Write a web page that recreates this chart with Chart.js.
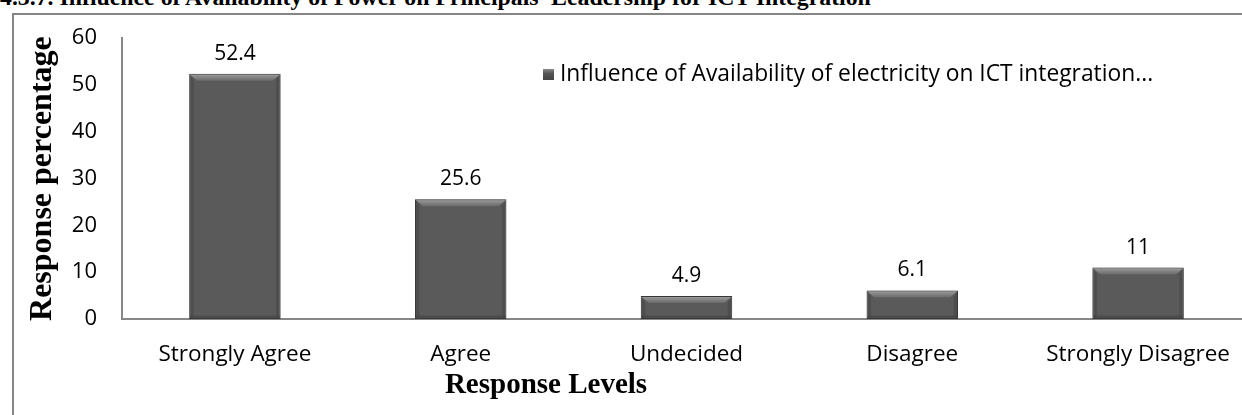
<!DOCTYPE html>
<html>
<head>
<meta charset="utf-8">
<script src="https://cdn.jsdelivr.net/npm/chart.js@4.4.1/dist/chart.umd.min.js"></script>
<style>
  html, body { margin: 0; padding: 0; background: #fff; overflow: hidden; width: 1242px; height: 415px; }
  #title { position: absolute; left: 0; top: -15px; font: bold 23.8px "Liberation Serif", "Times New Roman", serif; color: #000; white-space: nowrap; line-height: 24px; }
  #frame { position: absolute; left: 12px; top: 13px; width: 1300px; height: 500px; border-left: 2px solid #858585; border-top: 2px solid #858585; }
  #wrap { position: absolute; left: 0; top: 0; width: 1252px; height: 415px; }
</style>
</head>
<body>
<div id="title">4.3.7. Influence of Availability of Power on Principals' Leadership for ICT Integration</div>
<div id="frame"></div>
<div id="wrap"><canvas id="c" width="1252" height="415"></canvas></div>
<script>
const categories = ["Strongly Agree", "Agree", "Undecided", "Disagree", "Strongly Disagree"];
const values = [52.4, 25.6, 4.9, 6.1, 11];
const valueLabels = ["52.4", "25.6", "4.9", "6.1", "11"];
const seriesName = "Influence of Availability of electricity on ICT integration...";
const yTicks = [0, 10, 20, 30, 40, 50, 60];
const yTitle = "Response percentage";
const xTitle = "Response Levels";

const SANS = "'Open Sans', sans-serif";
const SERIF = "'Liberation Serif', serif";

const bevelPlugin = {
  id: 'bevel',
  beforeDatasetsDraw(chart) {
    const ctx = chart.ctx;
    ctx.save();
    ctx.shadowColor = 'rgba(0,0,0,0.28)';
    ctx.shadowBlur = 5;
    ctx.shadowOffsetX = 0;
    ctx.shadowOffsetY = 0;
  },
  afterDatasetsDraw(chart) {
    const ctx = chart.ctx;
    ctx.restore();
    const meta = chart.getDatasetMeta(0);
    meta.data.forEach((bar, i) => {
      const w = bar.width;
      const l = bar.x - w / 2, r = bar.x + w / 2, t = bar.y, b = bar.base;
      const bv = Math.min(7, (b - t) / 3);
      ctx.save();
      const g = ctx.createLinearGradient(0, t, 0, t + bv);
      g.addColorStop(0, '#a0a0a0');
      g.addColorStop(1, '#6a6a6a');
      ctx.fillStyle = g;
      ctx.beginPath();
      ctx.moveTo(l + 1, t + 1); ctx.lineTo(r - 1, t + 1); ctx.lineTo(r - 1 - bv, t + bv); ctx.lineTo(l + 1 + bv, t + bv); ctx.closePath();
      ctx.fill();
      ctx.fillStyle = 'rgba(70,70,70,0.55)';
      ctx.beginPath();
      ctx.moveTo(l + 1, t + 1); ctx.lineTo(l + 1 + bv * 0.5, t + bv); ctx.lineTo(l + 1 + bv * 0.5, b - bv * 0.5); ctx.lineTo(l + 1, b); ctx.closePath();
      ctx.fill();
      ctx.beginPath();
      ctx.moveTo(r - 1, t + 1); ctx.lineTo(r - 1 - bv * 0.5, t + bv); ctx.lineTo(r - 1 - bv * 0.5, b - bv * 0.5); ctx.lineTo(r - 1, b); ctx.closePath();
      ctx.fill();
      ctx.fillStyle = 'rgba(60,60,60,0.5)';
      ctx.fillRect(l + 1, b - bv * 0.5, w - 2, bv * 0.5);
      ctx.restore();

      ctx.save();
      ctx.font = "21px " + SANS;
      ctx.fillStyle = '#000';
      ctx.textAlign = 'center';
      ctx.textBaseline = 'middle';
      ctx.fillText(valueLabels[i], bar.x, t - 20);
      ctx.restore();
    });

    const ctx2 = chart.ctx;
    ctx2.save();
    const lx = 543, ly = 69;
    const lg = ctx2.createLinearGradient(0, ly, 0, ly + 11);
    lg.addColorStop(0, '#8a8a8a'); lg.addColorStop(0.4, '#555'); lg.addColorStop(1, '#444');
    ctx2.fillStyle = lg;
    ctx2.fillRect(lx, ly, 11, 11);
    ctx2.font = "22.8px " + SANS;
    ctx2.fillStyle = '#000';
    ctx2.textAlign = 'left';
    ctx2.textBaseline = 'middle';
    ctx2.fillText(seriesName, lx + 17, ly + 6);

    // x axis title (offset left of the plot centre, as in the reference)
    ctx2.font = "bold 29px " + SERIF;
    ctx2.textAlign = 'center';
    ctx2.fillText(xTitle, 546, 386);
    ctx2.restore();
  }
};

new Chart(document.getElementById('c'), {
  type: 'bar',
  data: {
    labels: categories,
    datasets: [{
      label: seriesName,
      data: values,
      backgroundColor: '#5a5a5a',
      borderColor: '#3e3e3e',
      borderWidth: 1,
      borderSkipped: false,
      categoryPercentage: 1.0,
      barPercentage: 0.405
    }]
  },
  options: {
    responsive: false,
    animation: false,
    devicePixelRatio: 1,
    layout: { padding: { left: 24, top: 30, right: 0, bottom: 0 } },
    plugins: { legend: { display: false }, tooltip: { enabled: false } },
    scales: {
      x: {
        grid: { display: false, drawTicks: false },
        border: { display: true, color: '#878787', width: 2 },
        ticks: { color: '#000', font: { family: SANS, size: 22.5 }, padding: 22, maxRotation: 0, autoSkip: false },
        title: { display: false },
        afterFit(scale) { scale.height = 96; }
      },
      y: {
        min: 0, max: 60,
        afterBuildTicks(scale) { scale.ticks = yTicks.map(v => ({ value: v })); },
        grid: { display: false, drawTicks: false },
        border: { display: true, color: '#878787', width: 2 },
        ticks: { color: '#000', font: { family: SANS, size: 22 }, padding: 25 },
        title: { display: true, text: yTitle, color: '#000', font: { family: SERIF, size: 32, weight: 'bold' }, padding: { top: 0, bottom: 0 } },
        afterFit(scale) { scale.width = 98; }
      }
    }
  },
  plugins: [bevelPlugin]
});
</script>
</body>
</html>
